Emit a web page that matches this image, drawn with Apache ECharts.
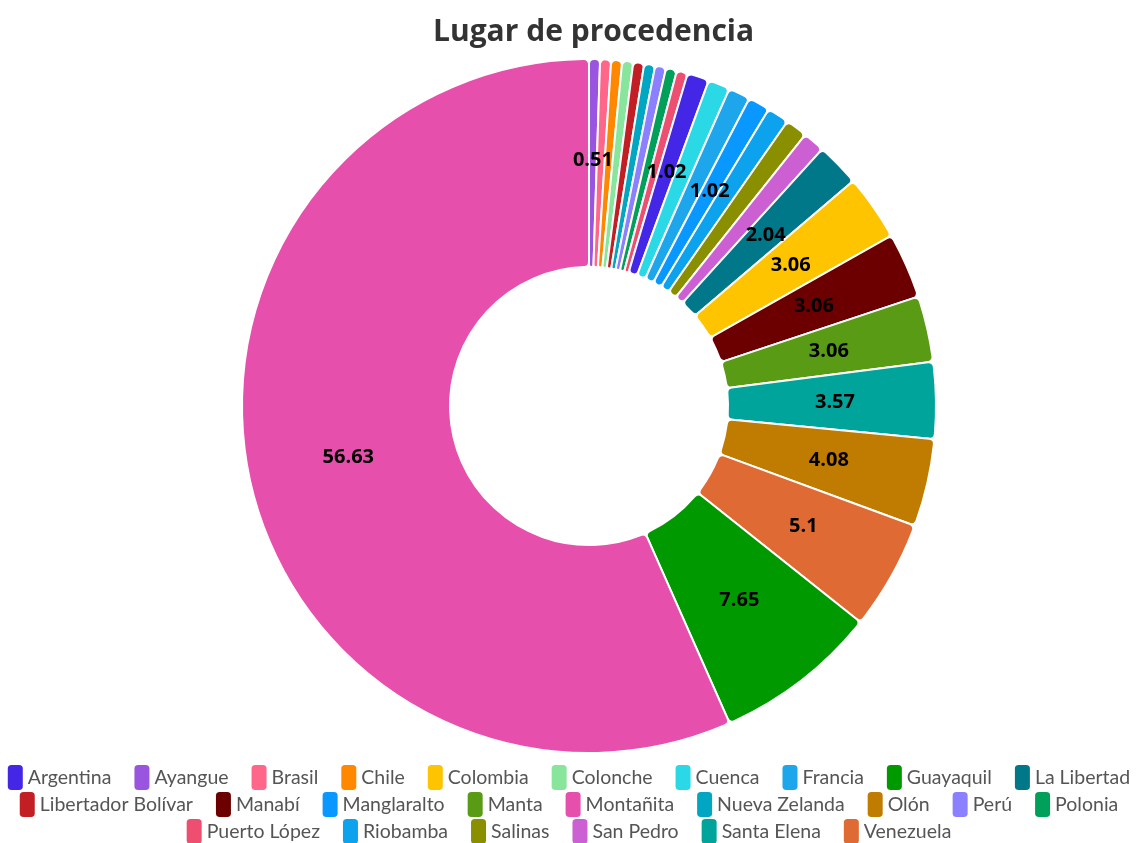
<!DOCTYPE html>
<html>
<head>
<meta charset="utf-8">
<title>Lugar de procedencia</title>
<script src="https://cdn.jsdelivr.net/npm/echarts@6/dist/echarts.min.js"></script>
<style>
  html, body { margin: 0; padding: 0; background: #fff; }
  #chart { width: 1138px; height: 843px; }
</style>
</head>
<body>
<div id="chart"></div>
<script>
// places in legend order (alphabetical)
const places = [
  "Argentina", "Ayangue", "Brasil", "Chile", "Colombia", "Colonche", "Cuenca",
  "Francia", "Guayaquil", "La Libertad", "Libertador Bolívar", "Manabí",
  "Manglaralto", "Manta", "Montañita", "Nueva Zelanda", "Olón", "Perú",
  "Polonia", "Puerto López", "Riobamba", "Salinas", "San Pedro",
  "Santa Elena", "Venezuela"
];
// percentage per place
const percents = [
  1.02, 0.51, 0.51, 0.51, 3.06, 0.51, 1.02,
  1.02, 7.65, 2.04, 0.51, 3.06,
  1.02, 3.06, 56.63, 0.51, 4.08, 0.51,
  0.51, 0.51, 1.02, 1.02, 1.02,
  3.57, 5.1
];
const colors = [
  "#4427e6", "#9a55e0", "#ff6689", "#ff8800", "#ffc400", "#88e59c", "#2bd9e6",
  "#1ea6ec", "#009a00", "#00788a", "#c21f25", "#6c0000",
  "#0898ff", "#5a9b16", "#e64fab", "#00a6c2", "#c07c00", "#8b80ff",
  "#00a05a", "#ee4f70", "#0da2ee", "#8a8f00", "#cc60d2",
  "#00a49a", "#e06a33"
];
// only these slices carry a visible label in the picture
const labelled = ["Ayangue", "Argentina", "Manglaralto", "La Libertad", "Colombia",
  "Manabí", "Manta", "Santa Elena", "Olón", "Venezuela", "Guayaquil", "Montañita"];

// legend rows as in the picture
const legendRows = [places.slice(0, 10), places.slice(10, 19), places.slice(19)];
const legendTops = [765, 792, 819];
// tall rounded swatch
const swatch = "path://M3,0 H9 A3,3 0 0 1 12,3 V17 A3,3 0 0 1 9,20 H3 A3,3 0 0 1 0,17 V3 A3,3 0 0 1 3,0 Z";

// slices go clockwise from the top, smallest first (ties alphabetical)
const pieData = places.map((name, i) => ({
  name: name,
  value: percents[i],
  itemStyle: { color: colors[i] },
  label: { show: labelled.includes(name) }
})).sort((a, b) => a.value - b.value || a.name.localeCompare(b.name));

const chart = echarts.init(document.getElementById("chart"));
chart.setOption({
  animation: false,
  title: {
    text: "Lugar de procedencia",
    left: 428,
    top: 12,
    textStyle: { fontFamily: "Open Sans", fontSize: 30, fontWeight: "bold", color: "#333" }
  },
  legend: legendRows.map((row, r) => ({
    data: row,
    top: legendTops[r],
    left: "center",
    padding: 0,
    width: 2000,
    itemWidth: 15,
    itemHeight: 25,
    itemGap: 23,
    icon: swatch,
    itemStyle: { borderWidth: 0 },
    textStyle: { fontFamily: "Lato", fontSize: 19.5, color: "#555" }
  })),
  series: [
    {
      type: "pie",
      center: [589, 406],
      radius: [139, 347],
      startAngle: 90,
      clockwise: true,
      avoidLabelOverlap: false,
      itemStyle: { borderColor: "#fff", borderWidth: 2, borderRadius: 5 },
      label: {
        position: "inside",
        formatter: "{c}",
        color: "#000",
        fontWeight: "bold",
        fontSize: 20,
        fontFamily: "Open Sans"
      },
      labelLine: { show: false },
      data: pieData
    }
  ]
});
</script>
</body>
</html>
